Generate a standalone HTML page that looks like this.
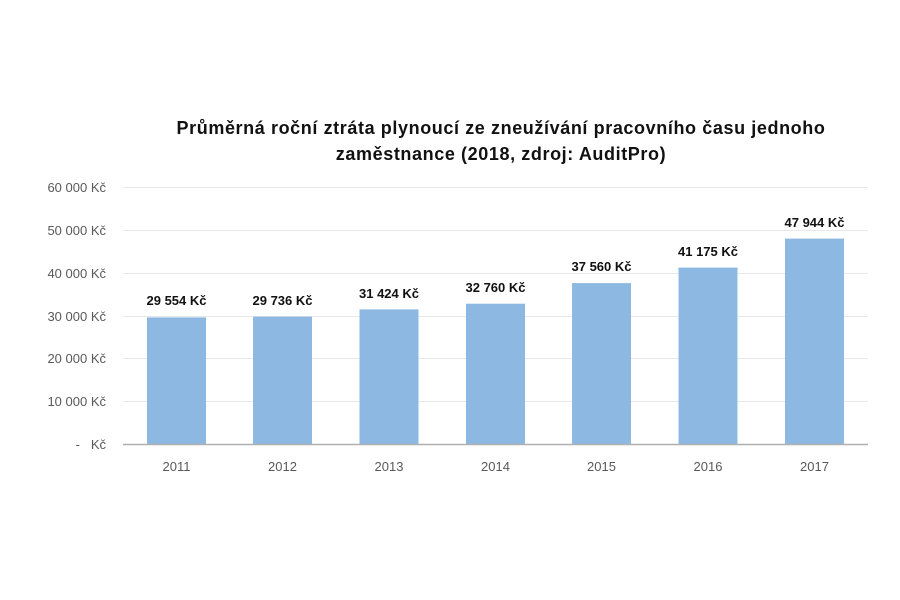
<!DOCTYPE html>
<html><head><meta charset="utf-8"><style>body{margin:0;background:#fff}svg{display:block}</style></head><body>
<svg width="900" height="600" xmlns="http://www.w3.org/2000/svg" font-family="Liberation Sans, DejaVu Sans, sans-serif">
<rect width="900" height="600" fill="#fff"/>
<text x="501" y="134" text-anchor="middle" font-size="18" letter-spacing="0.6" font-weight="bold" fill="#111">Průměrná roční ztráta plynoucí ze zneužívání pracovního času jednoho</text>
<text x="501" y="160" text-anchor="middle" font-size="18" letter-spacing="0.6" font-weight="bold" fill="#111">zaměstnance (2018, zdroj: AuditPro)</text>
<g stroke="#e8e8e8" stroke-width="1">
<line x1="123" x2="868" y1="187.5" y2="187.5"/><line x1="123" x2="868" y1="230.5" y2="230.5"/><line x1="123" x2="868" y1="273.5" y2="273.5"/><line x1="123" x2="868" y1="316.5" y2="316.5"/><line x1="123" x2="868" y1="358.5" y2="358.5"/><line x1="123" x2="868" y1="401.5" y2="401.5"/>
</g>
<g font-size="13" fill="#595959" text-anchor="end">
<text x="106" y="192">60 000 Kč</text><text x="106" y="235">50 000 Kč</text><text x="106" y="278">40 000 Kč</text><text x="106" y="321">30 000 Kč</text><text x="106" y="363">20 000 Kč</text><text x="106" y="406">10 000 Kč</text><text x="106" y="449">-&#160;&#160;&#160;Kč</text>
</g>
<g fill="#8db8e2">
<rect x="147" y="317.4" width="59" height="126.6"/>
<rect x="253" y="316.6" width="59" height="127.4"/>
<rect x="359.5" y="309.4" width="59" height="134.6"/>
<rect x="466" y="303.7" width="59" height="140.3"/>
<rect x="572" y="283.1" width="59" height="160.9"/>
<rect x="678.5" y="267.6" width="59" height="176.4"/>
<rect x="785" y="238.6" width="59" height="205.4"/>
</g>
<line x1="123" x2="868" y1="444.5" y2="444.5" stroke="#b0b0b0" stroke-width="1.5"/>
<g font-size="13" font-weight="bold" fill="#111" text-anchor="middle">
<text x="176.5" y="305">29 554 Kč</text><text x="282.5" y="305">29 736 Kč</text><text x="389" y="298">31 424 Kč</text><text x="495.5" y="292">32 760 Kč</text><text x="601.5" y="271">37 560 Kč</text><text x="708" y="256">41 175 Kč</text><text x="814.5" y="227">47 944 Kč</text>
</g>
<g font-size="13" fill="#595959" text-anchor="middle">
<text x="176.5" y="471">2011</text><text x="282.5" y="471">2012</text><text x="389" y="471">2013</text><text x="495.5" y="471">2014</text><text x="601.5" y="471">2015</text><text x="708" y="471">2016</text><text x="814.5" y="471">2017</text>
</g>
</svg>
</body></html>
